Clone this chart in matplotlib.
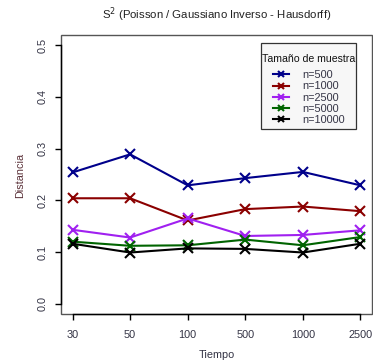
import matplotlib
matplotlib.use("Agg")
import matplotlib.pyplot as plt
from matplotlib.patches import Rectangle

tiempos = ["30", "50", "100", "500", "1000", "2500"]
series_names = ["n=500", "n=1000", "n=2500", "n=5000", "n=10000"]
n500 = [0.254, 0.289, 0.229, 0.243, 0.255, 0.229]
n1000 = [0.204, 0.204, 0.161, 0.183, 0.188, 0.179]
n2500 = [0.143, 0.128, 0.165, 0.131, 0.133, 0.142]
n5000 = [0.120, 0.112, 0.113, 0.124, 0.113, 0.129]
n10000 = [0.116, 0.099, 0.107, 0.106, 0.099, 0.116]
colors = ["#00008B", "#8B0000", "#A020F0", "#006400", "#000000"]
yticks = [0.0, 0.1, 0.2, 0.3, 0.4, 0.5]

plt.rcParams['font.family'] = ['Liberation Sans', 'DejaVu Sans']

W, H = 373, 362
fig = plt.figure(figsize=(W / 100, H / 100), dpi=100)
ax = fig.add_axes([61 / W, (H - 314) / H, (372 - 61) / W, (314 - 35) / H])

x = list(range(1, len(tiempos) + 1))
for vals, name, c in zip([n500, n1000, n2500, n5000, n10000], series_names, colors):
    ax.plot(x, vals, color=c, lw=1.5, marker='x', markersize=6.5, mew=1.5, label=name)

ax.set_xlim(0.8, 6.2)
ax.set_ylim(-0.02, 0.52)
ax.set_xticks(x)
ax.set_xticklabels(tiempos)
ax.set_yticks(yticks)
ax.set_yticklabels([f"{v:.1f}" for v in yticks], rotation=90, va='center')

tc = '#333344'
ax.tick_params(axis='both', length=4.5, width=1.0, color='black', labelsize=7.8, labelcolor=tc)
ax.tick_params(axis='x', pad=7)
ax.tick_params(axis='y', pad=5)

for s in ['top', 'right']:
    ax.spines[s].set_visible(False)
ax.spines['bottom'].set_bounds(1, 6)
ax.spines['left'].set_bounds(0, 0.5)
for s in ['bottom', 'left']:
    ax.spines[s].set_color('black')
    ax.spines[s].set_linewidth(1.0)
ax.add_patch(Rectangle((0, 0), 1, 1, transform=ax.transAxes, fill=False,
                       edgecolor='#555555', lw=1.0, clip_on=False, zorder=0))

fig.text(216.5 / W, 1 - 355 / H, "Tiempo", ha='center', va='center', fontsize=7.8, color=tc)
fig.text(20 / W, 1 - 175 / H, "Distancia", ha='center', va='center', rotation=90,
         fontsize=7.8, color='#5a3038')
fig.text(216.5 / W, 1 - 15 / H, r"S$^2$ (Poisson / Gaussiano Inverso - Hausdorff)",
         ha='center', va='center', fontsize=8.2, color='#222222')

# legend frame
ax.add_patch(Rectangle((261 / W, 1 - 129 / H), 95 / W, 86 / H, transform=fig.transFigure,
                       facecolor='#f7f7f7', edgecolor='#333333', lw=0.9,
                       clip_on=False, zorder=4))
ax.text(262.5 / W, 1 - 59 / H, "Tamaño de muestra", transform=fig.transFigure,
        ha='left', va='center', fontsize=7.6, color='#111111', zorder=6)

leg = ax.legend(loc='upper left', bbox_to_anchor=(273 / W, 1 - 70 / H),
                bbox_transform=fig.transFigure,
                fontsize=7.8, frameon=False,
                handlelength=1.5, handletextpad=1.2, borderpad=0, labelspacing=0.12,
                borderaxespad=0)
leg.set_zorder(6)
for t in leg.get_texts():
    t.set_color(tc)
for h in leg.legend_handles:
    h.set_markersize(5)

fig.savefig("out.png", dpi=100)
